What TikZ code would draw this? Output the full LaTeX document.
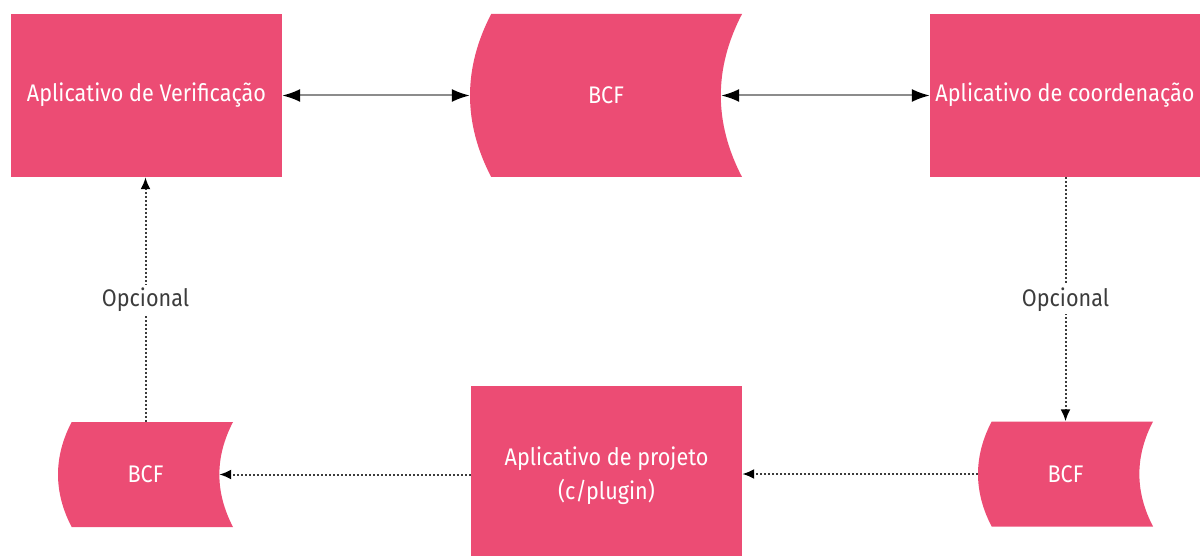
\documentclass[tikz,border=0pt]{standalone}
\usepackage{fontspec}
\setmainfont{Fira Sans}[FakeStretch=0.9]
\usepackage{xcolor}
\usetikzlibrary{arrows.meta, calc, positioning}
\definecolor{bcfPink}{HTML}{EC4C74}
\definecolor{lineGray}{HTML}{8C8C8C}
\definecolor{labelGray}{HTML}{3C3C3C}
\tikzstyle{appBox} = [rectangle, fill=bcfPink, text=white, align=center,
   inner sep=0pt, font=\fontsize{24}{34}\selectfont]
\tikzstyle{bcfFile} = [rectangle, inner sep=0pt, text=white,
   font=\fontsize{24}{34}\selectfont,
   path picture={
     \fill[bcfPink] let \p1=(path picture bounding box.north west),
       \p2=(path picture bounding box.south east),
       \n1={0.13*(\y1-\y2)}, \n2={\y1-\y2} in
       (\x1+\n1,\y1) -- (\x2,\y1)
       .. controls (\x2-1.333*\n1,\y1-0.333*\n2) and (\x2-1.333*\n1,\y2+0.333*\n2) .. (\x2,\y2)
       -- (\x1+\n1,\y2)
       .. controls (\x1-0.333*\n1,\y2+0.333*\n2) and (\x1-0.333*\n1,\y1-0.333*\n2) .. cycle;
   }]
\tikzstyle{bothArrow} = [lineGray, line width=2pt,
   {Latex[black,length=18pt,width=13pt]}-{Latex[black,length=18pt,width=13pt]}]
\tikzstyle{optArrow} = [labelGray, line width=2pt, dash pattern=on 2pt off 2pt,
   -{Latex[black,length=12pt,width=10pt]}]
\tikzstyle{optLabel} = [fill=white, text=labelGray, inner sep=3pt,
   font=\fontsize{24}{26}\selectfont]

\begin{document}
\begin{tikzpicture}[x=1pt, y=-1pt]
  \useasboundingbox (0,0) rectangle (1202,556);
  \node[appBox, minimum width=271pt, minimum height=163pt] (verif) at (146.5,95.5) {Aplicativo de Verificação};
  \node[bcfFile, minimum width=272pt, minimum height=163pt] (bcfTop) at (606,95.5) {BCF};
  \node[appBox, minimum width=270pt, minimum height=163pt] (coord) at (1065,95.5) {Aplicativo de coordenação};
  \node[appBox, minimum width=271pt, minimum height=180pt] (projeto) at (606.5,476) {Aplicativo de projeto\\(c/plugin)};
  \node[bcfFile, minimum width=175pt, minimum height=105pt] (bcfL) at (145.5,474.5) {BCF};
  \node[bcfFile, minimum width=175pt, minimum height=105pt] (bcfR) at (1065.5,474) {BCF};

  % solid links, top row
  \draw[bothArrow] (verif.east) -- (bcfTop.west);
  \draw[bothArrow] ([xshift=-21pt]bcfTop.east) -- (coord.west);

  % optional links
  \draw[optArrow] (bcfR.north |- coord.south) -- (bcfR.north)
     node[optLabel, midway] {Opcional};
  \draw[optArrow] (bcfR.west) -- (projeto.east |- bcfR.west);
  \draw[optArrow] (projeto.west |- bcfL.east) -- ([xshift=-14pt]bcfL.east);
  \draw[optArrow] (bcfL.north) -- (bcfL.north |- verif.south)
     node[optLabel, midway] {Opcional};
\end{tikzpicture}
\end{document}
